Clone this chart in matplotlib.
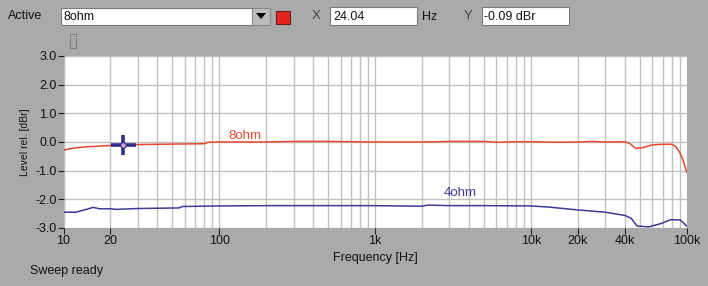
import matplotlib
matplotlib.use("Agg")
import matplotlib.pyplot as plt
from matplotlib.patches import Rectangle, Polygon
from matplotlib.ticker import FixedLocator, NullFormatter

plt.rcParams["font.family"] = ["Liberation Sans", "DejaVu Sans"]

# 8 ohm response (Hz, dBr)
freq_8 = [10, 12, 14, 20, 30, 55, 80, 85, 100, 200, 300, 500, 1000, 2000, 3000,
          5000, 6000, 8000, 10000, 15000, 20000, 25000, 30000, 40000, 43000,
          47000, 52000, 60000, 70000, 80000, 85000, 90000, 95000, 100000]
level_8 = [-0.28, -0.2, -0.17, -0.12, -0.09, -0.07, -0.06, -0.01, 0.0, 0.0, 0.02,
           0.02, 0.0, 0.0, 0.02, 0.02, -0.01, 0.01, 0.01, -0.01, 0.0, 0.02, 0.0,
           0.01, -0.05, -0.22, -0.2, -0.1, -0.08, -0.08, -0.15, -0.35, -0.65, -1.05]

# 4 ohm response (Hz, dBr)
freq_4 = [10, 12, 14, 15.5, 17, 20, 22, 30, 55, 58, 100, 200, 500, 1000, 2000,
          2200, 3000, 5000, 10000, 13000, 20000, 30000, 40000, 44000, 48000,
          57000, 68000, 79000, 91000, 100000]
level_4 = [-2.45, -2.45, -2.35, -2.28, -2.33, -2.33, -2.35, -2.32, -2.3, -2.25,
           -2.23, -2.22, -2.22, -2.22, -2.24, -2.2, -2.22, -2.22, -2.23, -2.27,
           -2.37, -2.45, -2.56, -2.66, -2.93, -2.96, -2.85, -2.71, -2.72, -2.93]

cursor_x = 24.04
cursor_y = -0.09

x_ticks = [10, 20, 100, 1000, 10000, 20000, 40000, 100000]
x_labels = ["10", "20", "100", "1k", "10k", "20k", "40k", "100k"]
y_ticks = [3.0, 2.0, 1.0, 0.0, -1.0, -2.0, -3.0]

W, H = 708, 286
BG = "#a9abab"
GRID = "#c0c0c0"
RED = "#e8472e"
BLUE = "#3c3a96"
FS = 9

fig = plt.figure(figsize=(W / 100, H / 100), dpi=100, facecolor=BG)


def fx(x):
    return x / W


def fy(y):
    return 1 - y / H


def box(x0, y0, x1, y1, face="white", edge="#7a7a7a", lw=0.8):
    fig.patches.append(Rectangle((fx(x0), fy(y1)), fx(x1) - fx(x0), fy(y0) - fy(y1),
                                 transform=fig.transFigure, facecolor=face,
                                 edgecolor=edge, linewidth=lw))


ax = fig.add_axes([fx(63.5), fy(228), fx(686.7) - fx(63.5), fy(56) - fy(228)])
ax.set_facecolor("white")
ax.set_xscale("log")
ax.set_xlim(10, 100000)
ax.set_ylim(-3.0, 3.0)

minor = [m * 10 ** d for d in range(1, 5) for m in range(2, 10)]
ax.xaxis.set_minor_locator(FixedLocator(minor))
ax.xaxis.set_minor_formatter(NullFormatter())
ax.set_xticks(x_ticks)
ax.set_xticklabels(x_labels)
ax.set_yticks(y_ticks)
ax.set_yticklabels([f"{v:.1f}" for v in y_ticks])
ax.tick_params(axis="both", which="major", direction="out", length=4, width=0.8,
               color="#202020", labelsize=FS, labelcolor="#111111", pad=1)
ax.tick_params(axis="x", which="minor", length=0)

for d in range(1, 5):
    for m in range(1, 10):
        ax.axvline(m * 10 ** d, color=GRID, linewidth=1.0, zorder=0)
ax.axvline(10, color=GRID, linewidth=1.0, zorder=0)
for v in y_ticks:
    ax.axhline(v, color=GRID, linewidth=1.0, zorder=0)
for s in ax.spines.values():
    s.set_visible(False)

ax.plot(freq_8, level_8, color=RED, linewidth=1.1, zorder=3)
ax.plot(freq_4, level_4, color=BLUE, linewidth=1.1, zorder=3)
ax.text(145, 0.22, "8ohm", color=RED, fontsize=9.5, ha="center", va="center")
ax.text(3500, -1.77, "4ohm", color=BLUE, fontsize=9.5, ha="center", va="center")

# cursor cross
ax.plot([cursor_x], [cursor_y], marker="_", markersize=18, mew=2.6, color="#2e2e8c", zorder=5)
ax.plot([cursor_x], [cursor_y], marker="|", markersize=15, mew=2.6, color="#2e2e8c", zorder=5)
ax.plot([cursor_x], [cursor_y], marker="o", markersize=4, mfc="#d9a3c0", mec="#2e2e8c",
        mew=0.8, zorder=6)

ax.set_xlabel("Frequency [Hz]", fontsize=FS, color="#111111", labelpad=4)
ax.set_ylabel("Level rel. [dBr]", fontsize=7.5, color="#111111", labelpad=4)

# toolbar
fig.text(fx(8), fy(16), "Active", fontsize=FS, va="center", color="#111111")
box(61, 8, 252, 25)
fig.text(fx(64), fy(16.5), "8ohm", fontsize=FS, va="center", color="#111111")
box(252, 8, 270, 25, face="#bcbcbc", edge="#8a8a8a")
fig.patches.append(Polygon([(fx(256), fy(13)), (fx(266), fy(13)), (fx(261), fy(19))],
                           closed=True, transform=fig.transFigure, facecolor="black",
                           edgecolor="none"))
box(276, 11, 290, 24, face="#e62420", edge="#6a1a18")
fig.text(fx(312), fy(16), "X", fontsize=9.5, va="center", color="#444444")
box(330, 7, 417, 25)
fig.text(fx(333), fy(16.5), "24.04", fontsize=FS, va="center", color="#111111")
fig.text(fx(422), fy(16.5), "Hz", fontsize=FS, va="center", color="#111111")
fig.text(fx(464), fy(16), "Y", fontsize=9.5, va="center", color="#444444")
box(482, 7, 569, 25)
fig.text(fx(484), fy(16.5), "-0.09 dBr", fontsize=FS, va="center", color="#111111")
box(70, 34, 76, 48, face="none", edge="#555555", lw=0.7)
fig.patches[-1].set_linestyle((0, (1, 1)))

fig.text(fx(30), fy(271), "Sweep ready", fontsize=FS, va="center", color="#111111")

fig.savefig("out.png", dpi=100, facecolor=BG)
